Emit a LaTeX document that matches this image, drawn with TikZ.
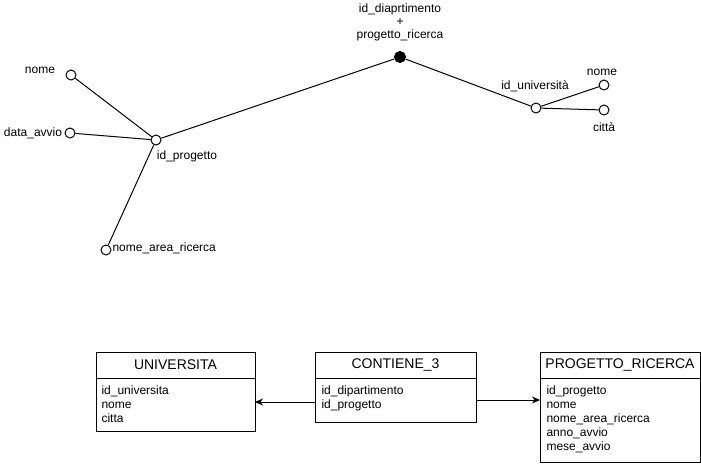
\documentclass[tikz,border=0pt]{standalone}
\usepackage{fontspec}
\setmainfont{Liberation Sans}
\usetikzlibrary{arrows.meta}
\begin{document}
\begin{tikzpicture}[x=1pt,y=-1pt,line width=1pt,
  attr/.style={circle,draw,fill=white,minimum size=10pt,inner sep=0pt},
  key/.style={circle,draw,fill=black,minimum size=11pt,inner sep=0pt},
  lbl/.style={font=\fontsize{12}{14}\selectfont,inner sep=0pt},
  tbl/.style={draw,line width=1pt},
  ttl/.style={font=\fontsize{14}{16}\selectfont,inner sep=0pt},
  rows/.style={font=\fontsize{12}{14}\selectfont,align=left,anchor=north west,inner sep=0pt},
  arr/.style={-{Stealth[length=8pt,width=7pt]},line width=1pt}]
\useasboundingbox (0,0) rectangle (701,464);
% ER attribute diagram
\node[key] (k) at (400,57) {};
\node[lbl,align=center] (kl) at (400,22) {id\_diaprtimento\\[-1pt]+\\[-1pt]progetto\_ricerca};
\node[attr] (idp) at (156,140) {};
\node[lbl] (idpl) at (187,156) {id\_progetto};
\node[attr] (nome1) at (71,75) {};
\node[lbl] (nome1l) at (40,70) {nome};
\node[attr] (data) at (70,133) {};
\node[lbl] (datal) at (33,133) {data\_avvio};
\node[attr] (area) at (106,250) {};
\node[lbl,anchor=west] (areal) at (112,248) {nome\_area\_ricerca};
\node[attr] (idu) at (536,108) {};
\node[lbl] (idul) at (535,86) {id\_università};
\node[attr] (nome2) at (604,85) {};
\node[lbl] (nome2l) at (602,72) {nome};
\node[attr] (citta) at (604,110) {};
\node[lbl] (cittal) at (604,127) {città};
\draw (nome1) -- (idp);
\draw (data) -- (idp);
\draw (area) -- (idp);
\draw (idp) -- (k);
\draw (k) -- (idu);
\draw (idu) -- (nome2);
\draw (idu) -- (citta);
% tables
\draw[tbl] (96,352) rectangle (255,431);
\draw[tbl] (96,378) -- (255,378);
\node[ttl] (ut) at (175.5,365) {UNIVERSITA};
\node[rows] (ur) at (101,385) {id\_universita\\nome\\citta};
\coordinate (uE) at (255,402);
\draw[tbl] (315,352) rectangle (476,422);
\draw[tbl] (315,378) -- (476,378);
\node[ttl] (ct) at (395.5,365) {CONTIENE\_3};
\node[rows] (cr) at (321,385) {id\_dipartimento\\id\_progetto};
\coordinate (cW) at (315,402);
\coordinate (cE) at (476,400);
\draw[tbl] (540,352) rectangle (700,462);
\draw[tbl] (540,378) -- (700,378);
\node[ttl] (pt) at (620,365) {PROGETTO\_RICERCA};
\node[rows] (pr) at (546,385) {id\_progetto\\nome\\nome\_area\_ricerca\\anno\_avvio\\mese\_avvio};
\coordinate (pW) at (540,400);
\draw[arr] (cW) -- (uE);
\draw[arr] (cE) -- (pW);
\end{tikzpicture}
\end{document}
